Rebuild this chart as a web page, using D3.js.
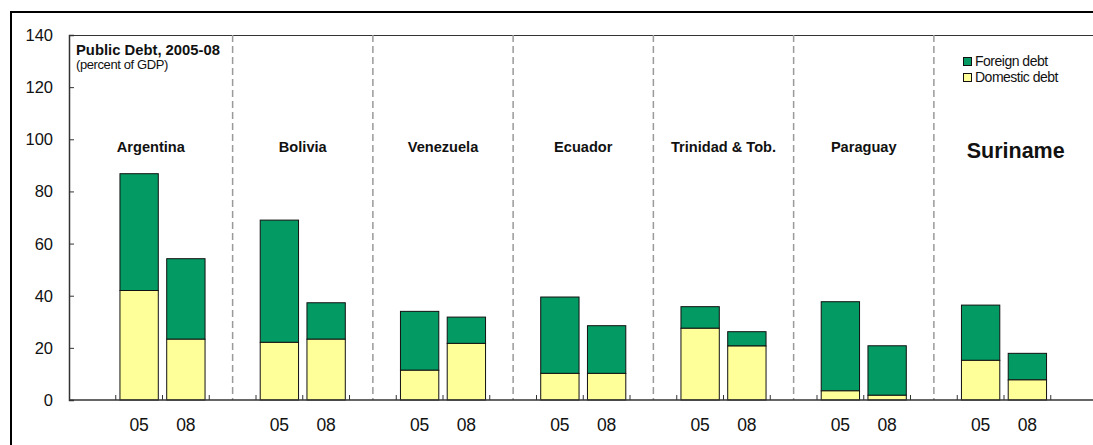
<!DOCTYPE html>
<html>
<head>
<meta charset="utf-8">
<script src="https://cdn.jsdelivr.net/npm/d3@7"></script>
<style>
  html, body { margin: 0; padding: 0; background: #fff; overflow: hidden; }
  svg { display: block; font-family: "Liberation Sans", Arial, sans-serif; }
</style>
</head>
<body>
<svg id="chart" width="1093" height="445"></svg>
<script>
// Public debt by country, 2005 and 2008 (percent of GDP)
const countries = ["Argentina", "Bolivia", "Venezuela", "Ecuador", "Trinidad & Tob.", "Paraguay", "Suriname"];
const years = ["05", "08"];
const domestic05 = [42.0, 22.1, 11.4, 10.2, 27.5, 3.5, 15.2];
const foreign05  = [44.8, 46.9, 22.6, 29.3, 8.3, 34.2, 21.2];
const domestic08 = [23.3, 23.3, 21.7, 10.2, 20.7, 1.8, 7.7];
const foreign08  = [30.9, 14.0, 10.1, 18.3, 5.5, 19.0, 10.2];
const yTicks = [0, 20, 40, 60, 80, 100, 120, 140];
const seriesNames = ["Foreign debt", "Domestic debt"];
const colors = { "Foreign debt": "#039a63", "Domestic debt": "#ffff99" };

(function draw() {
  const svg = d3.select("#chart");
  const plotLeft = 69, plotTop = 35, plotBottom = 400, plotRight = 1097.5;

  // One slot per bar plus a spacer slot between countries (divider) and at the ends
  const slots = ["start"];
  countries.forEach((c, i) => {
    years.forEach(yr => slots.push(c + "|" + yr));
    slots.push(i < countries.length - 1 ? "div" + i : "end");
  });

  const x = d3.scaleBand().domain(slots).range([plotLeft, plotRight]).padding(0);
  const y = d3.scaleLinear().domain([0, 140]).range([plotBottom, plotTop]);
  const bw = x.bandwidth();
  const barW = bw * 0.82;

  // Outer frame (top and left edges are inside the view)
  svg.append("path")
    .attr("d", "M11,445 L11,12 L1093,12")
    .attr("fill", "none").attr("stroke", "#000").attr("stroke-width", 2);

  // Top border of the plot area
  svg.append("line")
    .attr("x1", plotLeft).attr("x2", 1093).attr("y1", plotTop + 0.5).attr("y2", plotTop + 0.5)
    .attr("stroke", "#333").attr("stroke-width", 1);

  // Dashed dividers between countries
  countries.slice(0, -1).forEach((c, i) => {
    const cx = x("div" + i) + bw / 2;
    svg.append("line")
      .attr("x1", cx).attr("x2", cx).attr("y1", plotTop).attr("y2", plotBottom)
      .attr("stroke", "#9a9a9a").attr("stroke-width", 1.5)
      .attr("stroke-dasharray", "7,4");
  });

  // Stacked bars
  const rows = [];
  countries.forEach((c, i) => {
    rows.push({ key: c + "|05", dom: domestic05[i], fgn: foreign05[i] });
    rows.push({ key: c + "|08", dom: domestic08[i], fgn: foreign08[i] });
  });
  const barG = svg.append("g");
  rows.forEach(r => {
    const bx = x(r.key) + (bw - barW) / 2;
    barG.append("rect")
      .attr("x", bx).attr("width", barW)
      .attr("y", y(r.dom + r.fgn)).attr("height", y(r.dom) - y(r.dom + r.fgn))
      .attr("fill", colors["Foreign debt"]).attr("stroke", "#111").attr("stroke-width", 1);
    barG.append("rect")
      .attr("x", bx).attr("width", barW)
      .attr("y", y(r.dom)).attr("height", y(0) - y(r.dom))
      .attr("fill", colors["Domestic debt"]).attr("stroke", "#111").attr("stroke-width", 1);
  });

  // Y axis
  const yAxis = svg.append("g").attr("transform", `translate(${plotLeft},0)`)
    .call(d3.axisRight(y).tickValues(yTicks).tickSize(5).tickFormat(""));
  yAxis.select(".domain").attr("stroke", "#333").attr("stroke-width", 1.5);
  yAxis.selectAll(".tick line").attr("stroke", "#333");
  svg.append("g").selectAll("text").data(yTicks).join("text")
    .attr("x", 53).attr("y", d => y(d) + 6)
    .attr("text-anchor", "end").attr("font-size", 16.5).attr("fill", "#111")
    .text(d => d);

  // X axis with ticks at slot boundaries
  const boundaries = slots.slice(1).map(s => x(s));
  const xAxisG = svg.append("g");
  xAxisG.append("line")
    .attr("x1", plotLeft).attr("x2", 1093).attr("y1", plotBottom).attr("y2", plotBottom)
    .attr("stroke", "#333").attr("stroke-width", 1.5);
  xAxisG.selectAll("line.tk").data(boundaries).join("line").attr("class", "tk")
    .attr("x1", d => d).attr("x2", d => d).attr("y1", plotBottom).attr("y2", plotBottom - 5)
    .attr("stroke", "#333").attr("stroke-width", 1);
  xAxisG.selectAll("text").data(rows).join("text")
    .attr("x", d => x(d.key) + bw / 2).attr("y", 431)
    .attr("text-anchor", "middle").attr("font-size", 17.5).attr("fill", "#111")
    .text(d => d.key.split("|")[1]);

  // Country labels, centred in each country's region
  countries.forEach((c, i) => {
    const lx = i === 0 ? plotLeft : x("div" + (i - 1)) + bw / 2;
    const rx = i === countries.length - 1 ? plotRight : x("div" + i) + bw / 2;
    const big = c === "Suriname";
    svg.append("text")
      .attr("x", (lx + rx) / 2).attr("y", y(95) + (big ? 6 : 0))
      .attr("text-anchor", "middle").attr("font-weight", "bold")
      .attr("font-size", big ? 21.5 : 14.6).attr("fill", "#111")
      .text(c);
  });

  // Title
  svg.append("text").attr("x", 76).attr("y", 55)
    .attr("font-weight", "bold").attr("font-size", 14.8).attr("fill", "#111")
    .text("Public Debt, 2005-08");
  svg.append("text").attr("x", 76).attr("y", 69)
    .attr("font-size", 13).attr("letter-spacing", -0.4).attr("fill", "#111")
    .text("(percent of GDP)");

  // Legend
  const legend = svg.append("g").attr("transform", "translate(963,57)");
  seriesNames.forEach((s, i) => {
    const g = legend.append("g").attr("transform", `translate(0,${i * 16})`);
    g.append("rect").attr("x", 0.5).attr("y", 0.5).attr("width", 8).attr("height", 8)
      .attr("fill", colors[s]).attr("stroke", "#111").attr("stroke-width", 1);
    g.append("text").attr("x", 12).attr("y", 8.5)
      .attr("font-size", 14).attr("letter-spacing", -0.5).attr("fill", "#111")
      .text(s);
  });
})();
</script>
</body>
</html>
